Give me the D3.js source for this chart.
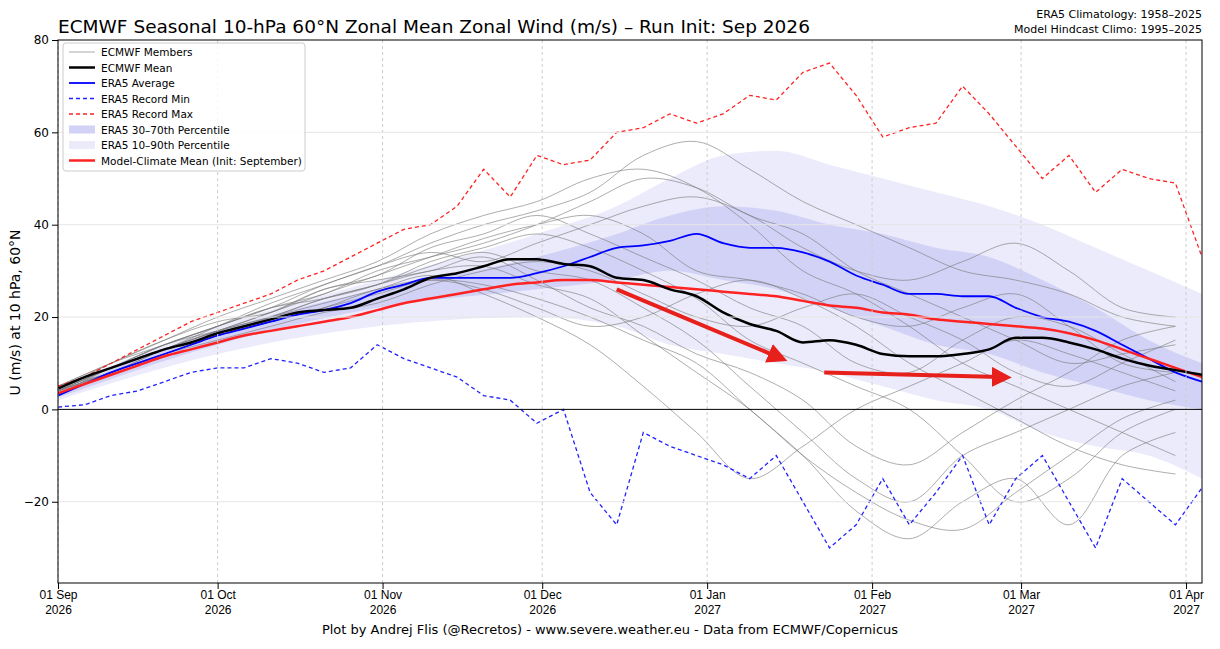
<!DOCTYPE html>
<html><head><meta charset="utf-8">
<script src="https://cdn.jsdelivr.net/npm/d3@7"></script>
<style>body{margin:0;background:#fff;font-family:"DejaVu Sans",sans-serif}</style>
</head><body><div id="chart"></div>
<script>
// day offsets from 01 Sep 2026
var days5 = d3.range(0, 216, 5);
var ecmwfMean = [4.5,7,9,11,13,14.5,16.5,18,19.5,21,21.5,22,24,26,28.5,29.5,31,32.5,32.5,31.5,31,28.5,28,26,24.5,21,18.5,17,14.5,15,14,12,11.5,11.5,12,13,15.5,15.5,14.5,13,11,9.5,8.5,7.5];
var era5Avg = [3,5.5,8,10,12,14,16,17.5,19,20.5,21.5,23,25.5,27,28.5,28.5,28.5,28.5,29.5,31,33,35,35.5,36.5,38,36,35,35,34,32,29,27,25,25,24.5,24.5,22,20,19,17,14,11,8,6];
var modelClim = [3.5,5.5,7.5,9.5,11.5,13,14.5,16,17,18,19,20,21.5,23,24,25,26,27,27.5,28,28,27.5,27,26.5,26,25.5,25,24.5,23.5,22.5,22,21,20.5,19.5,19,18.5,18,17.5,16.5,15,13,11,9,7];
var recMax = [5,7,10,13,16,19,21,23,25,28,30,33,36,39,40,44,52,46,55,53,54,60,61,64,62,64,68,67,73,75,68,59,61,62,70,64,57,50,55,47,52,50,49,33];
var recMin = [0.5,1,3,4,6,8,9,9,11,10,8,9,14,11,9,7,3,2,-3,0,-18,-25,-5,-8,-10,-12,-15,-10,-20,-30,-25,-15,-25,-18,-10,-25,-15,-10,-20,-30,-15,-20,-25,-17];

var bandDays = [0,30,60,90,105,115,125,135,145,155,165,175,185,195,205,215];
var p90 = [5,18,28,38,44,50,55,56,53,50,47,44,40,35,30,25];
var p70 = [4,17,26,33,38,42,44,43,40,38,35,33,28,22,15,10];
var p30 = [2.5,14,22,26,28,30,28,26,22,18,14,12,8,5,2,0];
var p10 = [2,12,18,20,18,14,12,10,8,5,2,0,-5,-8,-10,-15];

var days10 = d3.range(0, 216, 10);
var members = [
 [4,9,14,18,22,25,30,33,36,40,45,50,48,42,38,30,25,20,15,10,12,14],
 [5,8,13,17,20,24,27,31,34,30,28,22,15,5,-5,-15,-20,-10,-5,0,5,8],
 [4,10,15,19,21,26,29,35,38,42,38,33,28,22,18,10,8,15,20,18,12,6],
 [3,8,12,16,19,22,25,28,27,24,20,15,10,0,-10,-22,-28,-20,-15,-25,-10,-5],
 [5,9,13,18,23,27,31,34,32,36,40,44,46,42,35,30,28,32,36,30,22,20],
 [4,9,14,17,20,23,26,29,25,20,14,5,-5,-15,-8,0,5,10,15,12,8,4],
 [5,10,15,20,24,28,32,38,42,45,50,52,48,40,30,25,18,10,5,0,-5,-10],
 [4,8,12,15,18,21,23,27,30,32,30,25,20,18,22,25,20,15,8,5,10,15],
 [3,9,13,17,21,26,28,30,33,28,22,18,12,8,2,-8,-12,-5,2,8,15,18],
 [5,9,14,18,22,24,27,32,35,38,35,30,24,15,10,5,0,-10,-20,-15,-5,0],
 [4,8,13,17,21,25,29,33,37,40,42,38,30,28,25,20,18,22,25,18,10,8],
 [4,9,13,16,19,22,26,28,26,22,18,20,25,28,24,18,10,4,-2,-8,-12,-14],
 [5,10,14,18,22,27,31,36,40,43,47,55,58,52,45,40,35,30,28,25,20,18],
 [4,8,12,16,20,24,27,30,31,27,24,16,8,0,-10,-18,-24,-26,-18,-10,-2,2]
];
var arrows = [[105,26,135,11.5],[144,8,177,7]];
var monthTicks = [[0,"01 Sep","2026"],[30,"01 Oct","2026"],[61,"01 Nov","2026"],[91,"01 Dec","2026"],[122,"01 Jan","2027"],[153,"01 Feb","2027"],[181,"01 Mar","2027"],[212,"01 Apr","2027"]];

var W = 1220, H = 649;
var margin = {top: 40, right: 18, bottom: 66, left: 58};
var width = W - margin.left - margin.right, height = H - margin.top - margin.bottom;
var svg = d3.select("#chart").append("svg").attr("width", W).attr("height", H);
var g = svg.append("g").attr("transform", `translate(${margin.left},${margin.top})`);

var x = d3.scaleLinear().domain([0, 215]).range([0, width]);
var y = d3.scaleLinear().domain([-37.6, 80]).range([height, 0]);

g.append("defs").append("clipPath").attr("id","clip").append("rect").attr("width",width).attr("height",height);
var plot = g.append("g").attr("clip-path","url(#clip)");

// grid
g.append("g").selectAll("line").data(monthTicks).enter().append("line")
  .attr("x1", d => x(d[0])).attr("x2", d => x(d[0])).attr("y1",0).attr("y2",height)
  .attr("stroke","#ccc").attr("stroke-dasharray","3,3");
g.append("g").selectAll("line").data([-20,20,40,60]).enter().append("line")
  .attr("x1",0).attr("x2",width).attr("y1", d => y(d)).attr("y2", d => y(d))
  .attr("stroke","#e6e6e6");

var area = (lo, hi) => d3.area().curve(d3.curveMonotoneX).x((d,i) => x(bandDays[i])).y0((d,i) => y(lo[i])).y1((d,i) => y(hi[i]));
plot.append("path").datum(p10).attr("d", area(p10,p90)).attr("fill","#ebebfb");
plot.append("path").datum(p30).attr("d", area(p30,p70)).attr("fill","#d2d2f7");

var line10 = d3.line().curve(d3.curveCatmullRom).x((d,i) => x(days10[i])).y(d => y(d));
plot.selectAll(".mem").data(members).enter().append("path")
  .attr("d", line10).attr("fill","none").attr("stroke","#777").attr("stroke-opacity",0.6).attr("stroke-width",1);

g.append("line").attr("x1",0).attr("x2",width).attr("y1",y(0)).attr("y2",y(0)).attr("stroke","#000").attr("stroke-width",1);

var line5 = d3.line().x((d,i) => x(days5[i])).y(d => y(d));
plot.append("path").datum(recMax).attr("d",line5).attr("fill","none").attr("stroke","#f22").attr("stroke-width",1.3).attr("stroke-dasharray","4,3");
plot.append("path").datum(recMin).attr("d",line5).attr("fill","none").attr("stroke","#22f").attr("stroke-width",1.3).attr("stroke-dasharray","4,3");
plot.append("path").datum(era5Avg).attr("d",line5.curve(d3.curveMonotoneX)).attr("fill","none").attr("stroke","#00f").attr("stroke-width",1.8);
plot.append("path").datum(modelClim).attr("d",line5).attr("fill","none").attr("stroke","#f22").attr("stroke-width",2.5);
plot.append("path").datum(ecmwfMean).attr("d",line5).attr("fill","none").attr("stroke","#000").attr("stroke-width",2.5);

// arrows
svg.append("defs").append("marker").attr("id","ah").attr("viewBox","0 0 10 10").attr("refX",4).attr("refY",5)
  .attr("markerWidth",5).attr("markerHeight",5).attr("orient","auto")
  .append("path").attr("d","M0,0L10,5L0,10z").attr("fill","#e8201c");
g.selectAll(".arr").data(arrows).enter().append("line")
  .attr("x1", d => x(d[0])).attr("y1", d => y(d[1])).attr("x2", d => x(d[2])).attr("y2", d => y(d[3]))
  .attr("stroke","#e8201c").attr("stroke-width",4).attr("marker-end","url(#ah)");

// axes
g.append("rect").attr("width",width).attr("height",height).attr("fill","none").attr("stroke","#000");
var ya = g.append("g").call(d3.axisLeft(y).tickValues([-20,0,20,40,60,80]).tickSizeOuter(0));
ya.select(".domain").remove();
ya.selectAll("text").attr("font-size",12).attr("font-family","DejaVu Sans");
var xa = g.append("g").attr("transform",`translate(0,${height})`)
  .call(d3.axisBottom(x).tickValues(monthTicks.map(d => d[0])).tickFormat(""));
xa.select(".domain").remove();
xa.selectAll(".tick").each(function(d, i) {
  var t = d3.select(this).append("text").attr("fill","#000").attr("font-size",12).attr("text-anchor","middle");
  t.append("tspan").attr("x",0).attr("y",16).text(monthTicks[i][1]);
  t.append("tspan").attr("x",0).attr("y",31).text(monthTicks[i][2]);
});

svg.append("text").attr("transform",`translate(20,${margin.top + y(21)}) rotate(-90)`).attr("text-anchor","middle")
  .attr("font-size",14).text("U (m/s) at 10 hPa, 60°N");
svg.append("text").attr("x",58).attr("y",33).attr("font-size",18.5).text("ECMWF Seasonal 10-hPa 60°N Zonal Mean Zonal Wind (m/s) – Run Init: Sep 2026");
svg.append("text").attr("x",1202).attr("y",18).attr("text-anchor","end").attr("font-size",11).text("ERA5 Climatology: 1958–2025");
svg.append("text").attr("x",1202).attr("y",33).attr("text-anchor","end").attr("font-size",11).text("Model Hindcast Climo: 1995–2025");
svg.append("text").attr("x",610).attr("y",634).attr("text-anchor","middle").attr("font-size",13).text("Plot by Andrej Flis (@Recretos) - www.severe.weather.eu - Data from ECMWF/Copernicus");

// legend
var legendItems = [
  ["ECMWF Members","line","#aaa",1,null],["ECMWF Mean","line","#000",2.5,null],["ERA5 Average","line","#00f",1.8,null],
  ["ERA5 Record Min","line","#22f",1.3,"4,3"],["ERA5 Record Max","line","#f22",1.3,"4,3"],
  ["ERA5 30–70th Percentile","box","#d2d2f7"],["ERA5 10–90th Percentile","box","#ebebfb"],
  ["Model-Climate Mean (Init: September)","line","#f22",2.5,null]];
var lg = g.append("g").attr("transform","translate(5,3)");
lg.append("rect").attr("width",242).attr("height",128).attr("rx",3).attr("fill","#fff").attr("fill-opacity",0.85).attr("stroke","#ccc");
legendItems.forEach(function(d, i) {
  var yy = 9 + i * 15.5;
  if (d[1] == "line") lg.append("line").attr("x1",6).attr("x2",32).attr("y1",yy).attr("y2",yy).attr("stroke",d[2]).attr("stroke-width",d[3]).attr("stroke-dasharray",d[4]);
  else lg.append("rect").attr("x",6).attr("y",yy-4).attr("width",26).attr("height",8).attr("fill",d[2]);
  lg.append("text").attr("x",38).attr("y",yy+4).attr("font-size",10.5).text(d[0]);
});
</script></body></html>
